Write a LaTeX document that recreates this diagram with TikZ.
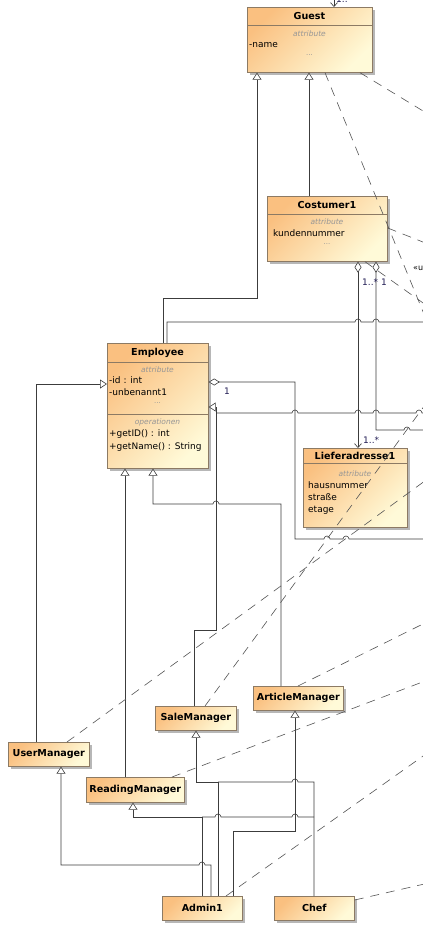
\documentclass[tikz,border=0pt]{standalone}
\usepackage{fontspec}
\setmainfont{DejaVu Sans}
\usetikzlibrary{arrows.meta,shadows}
\definecolor{orC}{RGB}{250,192,128}
\definecolor{paleC}{RGB}{255,250,216}
\definecolor{boxC}{RGB}{140,122,100}
\definecolor{shC}{RGB}{165,165,165}
\definecolor{lnC}{RGB}{60,60,60}
\definecolor{depC}{RGB}{85,85,85}
\definecolor{grayT}{RGB}{150,150,150}
\definecolor{lblC}{RGB}{35,30,85}
\tikzset{
  cls/.style={draw=boxC, line width=0.7pt, top color=orC, bottom color=paleC, shading angle=45,
    drop shadow={shadow xshift=2.5pt, shadow yshift=-2.5pt, fill=shC, opacity=0.8},
    inner sep=0pt, anchor=north west},
  scls/.style={cls, font=\fontsize{9.6}{11}\selectfont\bfseries, minimum height=24pt},
  cname/.style={font=\fontsize{9.6}{11}\selectfont\bfseries, inner sep=0pt, text height=7.1pt, text depth=0pt},
  attr/.style={font=\fontsize{9}{10}\selectfont, inner sep=0pt, anchor=west, text height=6.8pt, text depth=0pt},
  ster/.style={font=\fontsize{7.5}{8}\selectfont\itshape, text=grayT, inner sep=0pt, text height=5.6pt, text depth=0pt},
  dots/.style={font=\fontsize{7}{8}\selectfont, text=grayT, inner sep=0pt},
  divl/.style={draw=boxC, line width=0.7pt},
  ln/.style={draw=lnC, line width=0.6pt},
  gen/.style={ln, -{Triangle[length=7pt, width=9pt, fill=white]}},
  aggS/.style={ln, {Diamond[length=11pt, width=7pt, fill=white]}-},
  aggN/.style={ln, {Diamond[length=11pt, width=7pt, fill=white]}-{Straight Barb[length=4pt, width=7pt]}},
  nav/.style={ln, -{Straight Barb[length=4pt, width=7pt]}},
  dep/.style={draw=depC, line width=0.6pt, dash pattern=on 9pt off 7pt},
  mult/.style={font=\fontsize{9}{10}\selectfont, text=lblC, inner sep=0pt, anchor=west},
}
\begin{document}
\begin{tikzpicture}[x=1pt,y=-1pt]
\useasboundingbox (0,0) rectangle (423,930);
\fill[white] (0,0) rectangle (423,930);

% ---------- classes ----------
\node[cls, minimum width=125pt, minimum height=65pt] (guest) at (247,7) {};
\draw[divl] (guest.west |- 0,25) -- (guest.east |- 0,25);
\node[cname] (guestN) at (309.5,16) {Guest};
\node[ster] (guestS) at (309.5,34) {attribute};
\node[attr] (guestA) at (249,44) {-name};
\node[dots] (guestD) at (309.5,55) {...};

\node[cls, minimum width=120pt, minimum height=65pt] (costumer) at (267,196) {};
\draw[divl] (costumer.west |- 0,214) -- (costumer.east |- 0,214);
\node[cname] (costN) at (327,205) {Costumer1};
\node[ster] (costS) at (327,222) {attribute};
\node[attr] (costA) at (273,233) {kundennummer};
\node[dots] (costD) at (327,244) {...};

\node[cls, minimum width=101pt, minimum height=125pt] (employee) at (107,343) {};
\draw[divl] (employee.west |- 0,362) -- (employee.east |- 0,362);
\draw[divl] (employee.west |- 0,414) -- (employee.east |- 0,414);
\node[cname] (empN) at (157.5,352) {Employee};
\node[ster] (empS) at (157.5,370) {attribute};
\node[attr] (empA1) at (109,380) {-id : int};
\node[attr] (empA2) at (109,392) {-unbenannt1};
\node[dots] (empD) at (157.5,403) {...};
\node[ster] (empO) at (157.5,422) {operationen};
\node[attr] (empO1) at (109,433) {+getID() : int};
\node[attr] (empO2) at (109,446) {+getName() : String};

\node[cls, minimum width=104pt, minimum height=79pt] (liefer) at (303,448) {};
\draw[divl] (liefer.west |- 0,463) -- (liefer.east |- 0,463);
\node[cname] (liefN) at (355,456) {Lieferadresse1};
\node[ster] (liefS) at (355,474) {attribute};
\node[attr] (liefA1) at (308,485) {hausnummer};
\node[attr] (liefA2) at (308,497) {straße};
\node[attr] (liefA3) at (308,509) {etage};

\node[scls, minimum width=90pt] (article) at (253,686) {ArticleManager};
\node[scls, minimum width=81pt] (sale) at (155,706) {SaleManager};
\node[scls, minimum width=81pt] (user) at (8,742) {UserManager};
\node[scls, minimum width=98pt, minimum height=25pt] (reading) at (86,777) {ReadingManager};
\node[scls, minimum width=80pt] (admin) at (162,896) {Admin1};
\node[scls, minimum width=80pt] (chef) at (274,896) {Chef};

% ---------- free ends ----------
\coordinate (t0) at (334,-10);
\coordinate (o1) at (430,322);
\coordinate (o2) at (430,430);
\coordinate (o3) at (430,539);
\coordinate (o4) at (430,413);
\coordinate (dA) at (433,475);
\coordinate (dB) at (433,394);
\coordinate (dD) at (433,678);
\coordinate (dE) at (433,619);
\coordinate (dF) at (433,749);
\coordinate (dG) at (433,882);
\coordinate (dH) at (433,336);
\coordinate (dK) at (433,117);
\coordinate (dI) at (433,246);
\coordinate (dJ) at (433,310);

% ---------- solid connectors ----------
\draw[nav] (t0) -- (334,0 |- guest.north);
\node[mult, anchor=south west] (topm) at (336,3) {1..*};

\draw[gen] (163,0 |- employee.north) -- (163,298) -- (257,298) -- (257,0 |- guest.south);
\draw[gen] (309,0 |- costumer.north) -- (309,0 |- guest.south);
\draw[ln] (167,0 |- employee.north) -- (167,322) -- (355,322)
  arc[start angle=180,end angle=0,radius=3pt] -- (373,322)
  arc[start angle=180,end angle=0,radius=3pt] -- (o1);

\draw[aggN] (358,0 |- costumer.south) -- (358,0 |- liefer.north);
\draw[aggS] (376,0 |- costumer.south) -- (376,430) -- (404,430)
  arc[start angle=180,end angle=0,radius=3pt] -- (o2);
\node[mult] (m1) at (362,282) {1..*};
\node[mult] (m2) at (381,282) {1};
\node[mult] (m3) at (363,440) {1..*};

\draw[aggS] (employee.east |- 0,382) -- (295,382) -- (295,539) -- (324,539)
  arc[start angle=180,end angle=0,radius=3pt] -- (343,539)
  arc[start angle=180,end angle=0,radius=3pt] -- (o3);
\node[mult] (m4) at (224,391) {1};

\draw[gen] (194,0 |- sale.north) -- (194,630) -- (216,630) -- (216,407) -- (employee.east |- 0,407);
\draw[ln] (216,413) -- (292,413)
  arc[start angle=180,end angle=0,radius=3pt] -- (355,413)
  arc[start angle=180,end angle=0,radius=3pt] -- (373,413)
  arc[start angle=180,end angle=0,radius=3pt] -- (416,413)
  arc[start angle=180,end angle=0,radius=3pt] -- (o4);

\draw[gen] (36,0 |- user.north) -- (36,384) -- (employee.west |- 0,384);
\draw[gen] (125,0 |- reading.north) -- (125,0 |- employee.south);
\draw[gen] (281,0 |- article.north) -- (281,504) -- (219,504)
  arc[start angle=0,end angle=180,radius=3pt] -- (153,504) -- (153,0 |- employee.south);

\draw[gen] (211,0 |- admin.north) -- (211,865) -- (205,865)
  arc[start angle=0,end angle=180,radius=3pt] -- (61,865) -- (61,0 |- user.south);
\draw[gen] (202,0 |- admin.north) -- (202,817) -- (133,817) -- (133,0 |- reading.south);
\draw[gen] (218,0 |- admin.north) -- (218,782) -- (196,782) -- (196,0 |- sale.south);
\draw[gen] (233,0 |- admin.north) -- (233,831) -- (295,831) -- (295,0 |- article.south);
\draw[ln] (314,0 |- chef.north) -- (314,782) -- (298,782)
  arc[start angle=0,end angle=180,radius=3pt] -- (218,782);
\draw[ln] (314,817) -- (298,817)
  arc[start angle=0,end angle=180,radius=3pt] -- (221,817)
  arc[start angle=0,end angle=180,radius=3pt] -- (202,817);

% ---------- dependencies ----------
\draw[dep] (325,0 |- guest.south) -- (dH);
\draw[dep] (360,0 |- guest.south) -- (dK);
\draw[dep] (costumer.east |- 0,228) -- (dI);
\draw[dep] (365,0 |- costumer.south) -- (dJ);
\draw[dep] (67,0 |- user.north) -- (dA);
\draw[dep] (205,0 |- sale.north) -- (dB);
\draw[dep] (172,0 |- reading.north) -- (dD);
\draw[dep] (298,0 |- article.north) -- (dE);
\draw[dep] (226,0 |- admin.north) -- (dF);
\draw[dep] (chef.east |- 0,900) -- (dG);
\node[font=\fontsize{8}{9}\selectfont, inner sep=0pt, anchor=west] (use) at (413,268) {«use»};
\end{tikzpicture}
\end{document}
